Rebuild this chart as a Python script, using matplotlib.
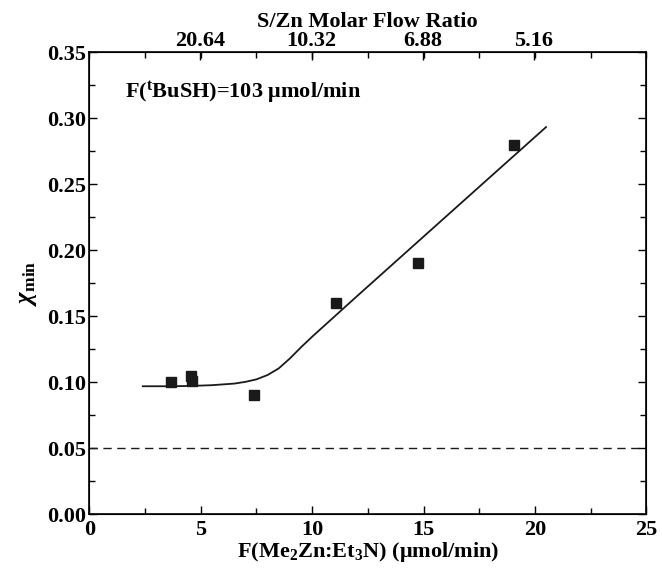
import matplotlib
matplotlib.use('Agg')
from matplotlib import pyplot as plt
from matplotlib.ticker import MultipleLocator, FixedLocator, FormatStrFormatter

plt.rcParams['font.family'] = ['Liberation Serif', 'DejaVu Serif']
plt.rcParams['font.weight'] = 'bold'
plt.rcParams['axes.labelweight'] = 'bold'
plt.rcParams['mathtext.fontset'] = 'custom'
plt.rcParams['mathtext.rm'] = 'Liberation Serif:bold'
plt.rcParams['mathtext.bf'] = 'Liberation Serif:bold'
plt.rcParams['mathtext.it'] = 'Liberation Serif:italic'

# measured chi_min vs Me2Zn:Et3N flow
flow = [3.65, 4.56, 4.62, 7.38, 11.06, 14.77, 19.07]
chi_min = [0.100, 0.105, 0.101, 0.090, 0.160, 0.190, 0.280]

# fitted curve
fit_x = [2.4, 3.5, 4.5, 5.5, 6.5, 7.0, 7.5, 8.0, 8.5, 9.0, 9.5, 10.0, 12.0, 15.0, 18.0, 20.5]
fit_y = [0.097, 0.097, 0.0972, 0.0978, 0.0990, 0.1003, 0.1022, 0.1055, 0.1105, 0.1180, 0.1265, 0.1345,
         0.1650, 0.2103, 0.2556, 0.2933]

threshold = 0.05

# top axis: S/Zn ratio at fixed tBuSH flow
tbush_flow = 103
ratios = [20.64, 10.32, 6.88, 5.16]
ratio_labels = ['20.64', '10.32', '6.88', '5.16']

fig = plt.figure(figsize=(6.62, 5.74), dpi=100)
ax = fig.add_axes([0.1349, 0.104, 0.8414, 0.805])

ax.plot(fit_x, fit_y, color='#1a1a1a', lw=1.3)
ax.plot(flow, chi_min, ls='none', marker='s', ms=6.5, color='#1a1a1a')
ax.axhline(threshold, color='#1a1a1a', lw=1.0, ls=(0, (6, 4)))

ax.set_xlim(0, 25)
ax.set_ylim(0, 0.35)
ax.xaxis.set_major_locator(MultipleLocator(5))
ax.xaxis.set_minor_locator(MultipleLocator(2.5))
ax.yaxis.set_major_locator(MultipleLocator(0.05))
ax.yaxis.set_minor_locator(MultipleLocator(0.025))
ax.yaxis.set_major_formatter(FormatStrFormatter('%.2f'))
ax.tick_params(which='both', direction='in', top=False, right=True, labelsize=16, pad=2)
ax.tick_params(axis='x', pad=4)
ax.tick_params(which='major', length=6, width=1)
ax.tick_params(which='minor', length=4, width=1)
for s in ax.spines.values():
    s.set_linewidth(1.2)

ax.set_xlabel(r'F(Me$_2$Zn:Et$_3$N) ($\mathrm{\mu}$mol/min)', fontsize=16, fontweight='bold', labelpad=0)
ax.set_ylabel(r'$\chi_{\mathbf{min}}$', fontsize=18, labelpad=6)

top = ax.twiny()
top.set_xlim(ax.get_xlim())
top.xaxis.set_major_locator(FixedLocator([tbush_flow / r for r in ratios]))
top.xaxis.set_minor_locator(MultipleLocator(2.5))
top.set_xticklabels(ratio_labels)
top.tick_params(which='both', direction='in', labelsize=16, pad=1)
top.tick_params(which='major', length=6, width=1)
top.tick_params(which='minor', length=4, width=1)
top.set_xlabel('S/Zn Molar Flow Ratio', fontsize=16, fontweight='bold', labelpad=3)

ax.text(1.6, 0.319, r'F($^{\mathrm{t}}$BuSH)=103 $\mathrm{\mu}$mol/min', fontsize=16,
        va='center', ha='left', fontweight='bold')

fig.savefig('out.png', dpi=100)
